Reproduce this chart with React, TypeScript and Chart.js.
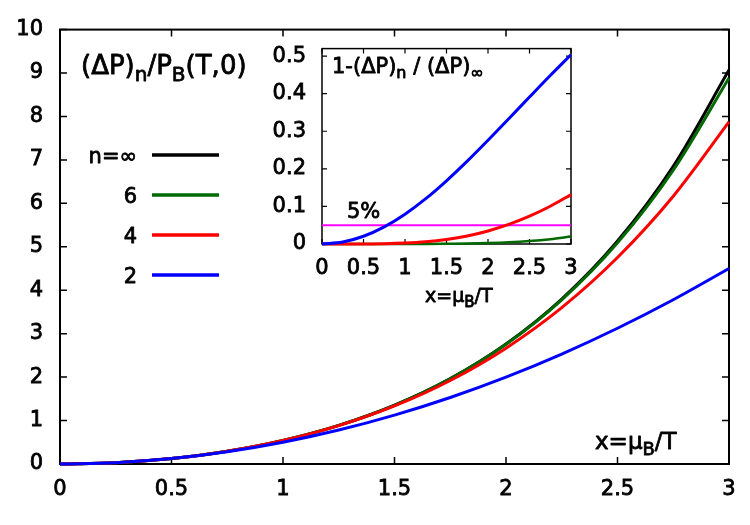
import { useEffect, useRef } from "react";
import { Chart, registerables } from "chart.js";

Chart.register(...registerables);

// x = mu_B / T
const xs = [0, 0.25, 0.5, 0.75, 1, 1.25, 1.5, 1.75, 2, 2.25, 2.5, 2.75, 3];

// (ΔP)_n / P_B(T,0) for each truncation order n
const pInf = [0, 0.0314, 0.1276, 0.2947, 0.5431, 0.8884, 1.3524, 1.9642, 2.7622, 3.7966, 5.1323, 6.8533, 9.0677];
const p6 = [0, 0.0314, 0.1276, 0.2947, 0.5431, 0.8883, 1.3517, 1.9619, 2.7556, 3.7793, 5.0917, 6.7649, 8.8875];
const p4 = [0, 0.0314, 0.1276, 0.2944, 0.5417, 0.883, 1.3359, 1.922, 2.6667, 3.5991, 4.7526, 6.1642, 7.875];
const p2 = [0, 0.0313, 0.125, 0.2813, 0.5, 0.7813, 1.125, 1.5313, 2.0, 2.5313, 3.125, 3.7813, 4.5];

// relative deviation 1 - (ΔP)_n / (ΔP)_inf
const dev2 = [0, 0.0052, 0.0206, 0.0456, 0.0793, 0.1206, 0.1682, 0.2204, 0.2759, 0.3333, 0.3911, 0.4483, 0.5037];
const dev4 = [0, 0.0, 0.0002, 0.0008, 0.0026, 0.0061, 0.0122, 0.0213, 0.0346, 0.052, 0.074, 0.1005, 0.1315];
const dev6 = [0, 0, 0, 0, 0.0, 0.0001, 0.0005, 0.001, 0.0024, 0.0045, 0.0079, 0.0129, 0.0199];

const thresholdX = [0, 3];
const thresholdY = [0.05, 0.05];

const legendLabels = ["n=\u221e", "6", "4", "2"];
const seriesColors = ["#000000", "#006a00", "#ff0000", "#0000ff"];
const thresholdColor = "#ff00ff";

const FONT = '"DejaVu Sans", sans-serif';
const TEXT_STROKE = 0.8;

type Piece = [string, boolean?];

// Draws a run of text where some pieces are subscripts
function drawRich(
  ctx: CanvasRenderingContext2D,
  pieces: Piece[],
  x: number,
  y: number,
  size: number,
  align: "left" | "right" = "left"
) {
  const subSize = Math.round(size * 0.78);
  const subDrop = Math.round(size * 0.25);
  let total = 0;
  for (const [t, sub] of pieces) {
    ctx.font = `${sub ? subSize : size}px ${FONT}`;
    total += ctx.measureText(t).width;
  }
  let cx = align === "right" ? x - total : x;
  ctx.textAlign = "left";
  ctx.textBaseline = "alphabetic";
  ctx.fillStyle = "#000";
  ctx.strokeStyle = "#000";
  ctx.lineWidth = TEXT_STROKE;
  ctx.lineJoin = "round";
  for (const [t, sub] of pieces) {
    ctx.font = `${sub ? subSize : size}px ${FONT}`;
    const ty = sub ? y + subDrop : y;
    ctx.fillText(t, cx, ty);
    ctx.strokeText(t, cx, ty);
    cx += ctx.measureText(t).width;
  }
}

const pts = (xv: number[], yv: number[]) => xv.map((x, i) => ({ x, y: yv[i] }));

// Border box plus inward tick marks on all four sides
const frameTicks = {
  id: "frameTicks",
  beforeDatasetsDraw(chart: any, _args: any, opts: any) {
    const { ctx, chartArea: a, scales } = chart;
    const len = opts.len ?? 7;
    ctx.save();
    ctx.strokeStyle = "#000";
    ctx.lineWidth = opts.tickWidth ?? 1.5;
    ctx.beginPath();
    scales.x.ticks.forEach((_t: any, i: number) => {
      const px = scales.x.getPixelForTick(i);
      ctx.moveTo(px, a.bottom);
      ctx.lineTo(px, a.bottom - len);
      ctx.moveTo(px, a.top);
      ctx.lineTo(px, a.top + len);
    });
    scales.y.ticks.forEach((_t: any, i: number) => {
      const py = scales.y.getPixelForTick(i);
      ctx.moveTo(a.left, py);
      ctx.lineTo(a.left + len, py);
      ctx.moveTo(a.right, py);
      ctx.lineTo(a.right - len, py);
    });
    ctx.stroke();
    ctx.lineWidth = opts.frameWidth ?? 2;
    ctx.strokeRect(a.left, a.top, a.right - a.left, a.bottom - a.top);
    ctx.restore();
  },
};

// Formula title, legend and axis caption for the main panel
const mainText = {
  id: "mainText",
  afterDraw(chart: any) {
    const { ctx } = chart;
    ctx.save();
    drawRich(ctx, [["(\u0394P)"], ["n", true], ["/P"], ["B", true], ["(T,0)"]], 81, 74, 26);
    const rows = [155, 195, 235, 275];
    legendLabels.forEach((label, i) => {
      drawRich(ctx, [[label]], 137, rows[i] + 8, 21, "right");
      ctx.strokeStyle = seriesColors[i];
      ctx.lineWidth = 3.5;
      ctx.beginPath();
      ctx.moveTo(152, rows[i]);
      ctx.lineTo(219, rows[i]);
      ctx.stroke();
    });
    drawRich(ctx, [["x=\u03bc"], ["B", true], ["/T"]], 595, 449, 23);
    ctx.restore();
  },
};

const insetText = {
  id: "insetText",
  afterDraw(chart: any) {
    const { ctx } = chart;
    ctx.save();
    // canvas origin sits at page (260, 20)
    drawRich(ctx, [["1-(\u0394P)"], ["n", true], [" / (\u0394P)"], ["\u221e", true]], 72, 53, 21);
    drawRich(ctx, [["5%"]], 87, 198, 21);
    drawRich(ctx, [["x=\u03bc"], ["B", true], ["/T"]], 165, 282, 19);
    ctx.restore();
  },
};

const tickFont = { family: FONT, size: 21 };
const tickStyle = { font: tickFont, color: "#000", textStrokeColor: "#000", textStrokeWidth: TEXT_STROKE };
const numLabel = (v: any) => `${Number(v)}`;

export default function App() {
  const mainRef = useRef<HTMLCanvasElement>(null);
  const insetRef = useRef<HTMLCanvasElement>(null);

  useEffect(() => {
    const main = new Chart(mainRef.current!, {
      type: "line",
      data: {
        datasets: [
          { data: pts(xs, p2), borderColor: seriesColors[3] },
          { data: pts(xs, p4), borderColor: seriesColors[2] },
          { data: pts(xs, p6), borderColor: seriesColors[1] },
          { data: pts(xs, pInf), borderColor: seriesColors[0] },
        ].map((d) => ({
          ...d,
          borderWidth: 3,
          pointRadius: 0,
          cubicInterpolationMode: "monotone" as const,
          clip: false as any,
        })),
      },
      options: {
        responsive: false,
        animation: false,
        events: [],
        layout: { padding: { left: 0, right: 21, top: 24, bottom: 0 } },
        plugins: {
          legend: { display: false },
          tooltip: { enabled: false },
          frameTicks: { len: 7, tickWidth: 1.5, frameWidth: 2 },
        } as any,
        scales: {
          x: {
            type: "linear",
            min: 0,
            max: 3,
            grid: { display: false, drawTicks: false },
            border: { display: false },
            ticks: { ...tickStyle, stepSize: 0.5, padding: 13, callback: numLabel, maxRotation: 0 },
            afterFit: (s: any) => {
              s.height = 61;
            },
          },
          y: {
            type: "linear",
            min: 0,
            max: 10,
            grid: { display: false, drawTicks: false },
            border: { display: false },
            ticks: { ...tickStyle, stepSize: 1, padding: 17, callback: numLabel },
            afterFit: (s: any) => {
              s.width = 60;
            },
          },
        },
      },
      plugins: [frameTicks, mainText],
    });

    const inset = new Chart(insetRef.current!, {
      type: "line",
      data: {
        datasets: [
          { data: pts(xs, dev2), borderColor: seriesColors[3], borderWidth: 3 },
          { data: pts(xs, dev4), borderColor: seriesColors[2], borderWidth: 3 },
          { data: pts(xs, dev6), borderColor: seriesColors[1], borderWidth: 2.5 },
          { data: pts(thresholdX, thresholdY), borderColor: thresholdColor, borderWidth: 2 },
        ].map((d) => ({
          ...d,
          pointRadius: 0,
          cubicInterpolationMode: "monotone" as const,
          clip: false as any,
        })),
      },
      options: {
        responsive: false,
        animation: false,
        events: [],
        layout: { padding: { left: 0, right: 19, top: 21, bottom: 0 } },
        plugins: {
          legend: { display: false },
          tooltip: { enabled: false },
          frameTicks: { len: 5, tickWidth: 1.2, frameWidth: 1.5 },
        } as any,
        scales: {
          x: {
            type: "linear",
            min: 0,
            max: 3,
            grid: { display: false, drawTicks: false },
            border: { display: false },
            ticks: { ...tickStyle, stepSize: 0.5, padding: 12, callback: numLabel, maxRotation: 0 },
            afterFit: (s: any) => {
              s.height = 76;
            },
          },
          y: {
            type: "linear",
            min: 0,
            max: 0.52,
            grid: { display: false, drawTicks: false },
            border: { display: false },
            ticks: { ...tickStyle, stepSize: 0.1, padding: 16, callback: numLabel, includeBounds: false },
            afterFit: (s: any) => {
              s.width = 62;
            },
          },
        },
      },
      plugins: [frameTicks, insetText],
    });

    return () => {
      main.destroy();
      inset.destroy();
    };
  }, []);

  return (
    <div style={{ position: "absolute", left: 0, top: 0, width: 750, height: 525, background: "#fff" }}>
      <canvas ref={mainRef} width={750} height={525} style={{ position: "absolute", left: 0, top: 0, width: 750, height: 525 }} />
      <canvas ref={insetRef} width={330} height={300} style={{ position: "absolute", left: 260, top: 20, width: 330, height: 300 }} />
    </div>
  );
}
